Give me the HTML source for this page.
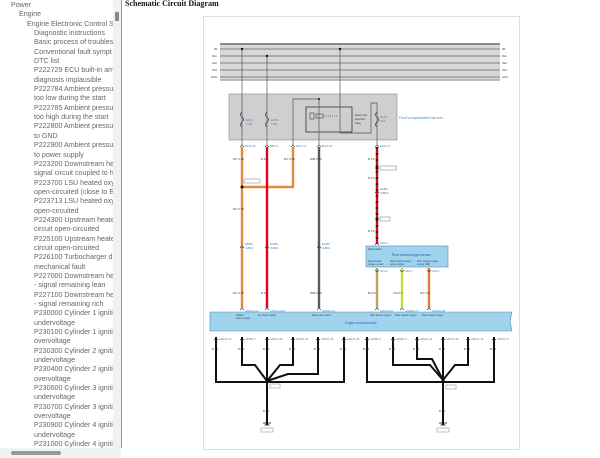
<!DOCTYPE html>
<html style="overflow:hidden"><head><meta charset="utf-8"><style>
html,body{margin:0;width:600px;height:458px;overflow:hidden}
body{background:#fff;font-family:"Liberation Sans",sans-serif;position:relative}
#side{position:absolute;left:0;top:1px;width:113px;height:447px;overflow:hidden;font-size:7.1px;color:#666;line-height:9.35px}
#side div{white-space:nowrap}
#sb{position:absolute;left:113px;top:0;width:8px;height:448px;background:#f1f1f1;border-right:1px solid #999}
#thumb{position:absolute;left:115px;top:12px;width:4px;height:9px;background:#888;border-radius:1px}
#hs{position:absolute;left:0;top:448px;width:121px;height:10px;background:#f1f1f1}
#hthumb{position:absolute;left:11px;top:451px;width:50px;height:4px;background:#999;border-radius:2px}
#title{position:absolute;left:125px;top:-1px;font:bold 8px "Liberation Serif",serif;color:#111}
svg{position:absolute;left:0;top:0}
</style></head><body>
<div id="side">
<div style="padding-left:11px">Power</div>
<div style="padding-left:19px">Engine</div>
<div style="padding-left:27px">Engine Electronic Control S</div>
<div style="padding-left:34px">Diagnostic instructions</div>
<div style="padding-left:34px">Basic process of troubles</div>
<div style="padding-left:34px">Conventional fault sympt</div>
<div style="padding-left:34px">DTC list</div>
<div style="padding-left:34px">P222729 ECU built-in am</div>
<div style="padding-left:34px">diagnosis implausible</div>
<div style="padding-left:34px">P222784 Ambient pressu</div>
<div style="padding-left:34px">too low during the start</div>
<div style="padding-left:34px">P222785 Ambient pressu</div>
<div style="padding-left:34px">too high during the start</div>
<div style="padding-left:34px">P222800 Ambient pressu</div>
<div style="padding-left:34px">to GND</div>
<div style="padding-left:34px">P222900 Ambient pressu</div>
<div style="padding-left:34px">to power supply</div>
<div style="padding-left:34px">P223200 Downstream he</div>
<div style="padding-left:34px">signal circuit coupled to h</div>
<div style="padding-left:34px">P223700 LSU heated oxy</div>
<div style="padding-left:34px">open-circuited (close to E</div>
<div style="padding-left:34px">P223713 LSU heated oxy</div>
<div style="padding-left:34px">open-circuited</div>
<div style="padding-left:34px">P224300 Upstream heate</div>
<div style="padding-left:34px">circuit open-circuited</div>
<div style="padding-left:34px">P225100 Upstream heate</div>
<div style="padding-left:34px">circuit open-circuited</div>
<div style="padding-left:34px">P226100 Turbocharger d</div>
<div style="padding-left:34px">mechanical fault</div>
<div style="padding-left:34px">P227000 Downstream he</div>
<div style="padding-left:34px">- signal remaining lean</div>
<div style="padding-left:34px">P227100 Downstream he</div>
<div style="padding-left:34px">- signal remaining rich</div>
<div style="padding-left:34px">P230000 Cylinder 1 igniti</div>
<div style="padding-left:34px">undervoltage</div>
<div style="padding-left:34px">P230100 Cylinder 1 igniti</div>
<div style="padding-left:34px">overvoltage</div>
<div style="padding-left:34px">P230300 Cylinder 2 igniti</div>
<div style="padding-left:34px">undervoltage</div>
<div style="padding-left:34px">P230400 Cylinder 2 igniti</div>
<div style="padding-left:34px">overvoltage</div>
<div style="padding-left:34px">P230600 Cylinder 3 igniti</div>
<div style="padding-left:34px">undervoltage</div>
<div style="padding-left:34px">P230700 Cylinder 3 igniti</div>
<div style="padding-left:34px">overvoltage</div>
<div style="padding-left:34px">P230900 Cylinder 4 igniti</div>
<div style="padding-left:34px">undervoltage</div>
<div style="padding-left:34px">P231000 Cylinder 4 igniti</div>
</div>
<div id="sb"></div><div id="thumb"></div><div id="hs"></div><div id="hthumb"></div>
<div id="title">Schematic Circuit Diagram</div>
<svg width="600" height="458" viewBox="0 0 600 458" font-family="Liberation Sans,sans-serif">
<rect x="203.5" y="16.5" width="316" height="433" fill="#fff" stroke="#ddd"/>
<rect x="220" y="44" width="280" height="36" fill="#d8d8d8"/>
<g stroke="#666" stroke-width="0.8">
<line x1="220" y1="44" x2="500" y2="44" stroke="#888" stroke-width="2"/>
<line x1="220" y1="49" x2="500" y2="49"/><line x1="220" y1="56" x2="500" y2="56"/>
<line x1="220" y1="63" x2="500" y2="63"/><line x1="220" y1="70" x2="500" y2="70"/>
<line x1="220" y1="77" x2="500" y2="77"/>
<line x1="220" y1="80" x2="500" y2="80" stroke="#aaa" stroke-width="1.5"/>
</g>
<g font-size="3" fill="#333">
<text x="214" y="50">30</text><text x="212" y="57">IG1</text><text x="212" y="64">IG2</text><text x="212" y="71">IG4</text><text x="211" y="78">ACC</text>
<text x="502" y="50">30</text><text x="502" y="57">IG1</text><text x="502" y="64">IG2</text><text x="502" y="71">IG4</text><text x="502" y="78">ACC</text>
</g>
<rect x="229" y="94" width="168" height="46" fill="#cfcfcf" stroke="#888" stroke-width="0.6"/>
<rect x="306" y="107" width="46" height="25" fill="none" stroke="#333" stroke-width="0.8"/>
<text x="399" y="119" font-size="3.5" fill="#4a7fb8">Front compartment fuse box</text>
<g stroke="#555" stroke-width="0.7" fill="none">
<line x1="242" y1="49" x2="242" y2="145"/><line x1="267" y1="56" x2="267" y2="145"/>
<polyline points="293,145 293,99 319,99 319,145"/>
<polyline points="340,49 340,133 371,133 371,103 377,103 377,145"/>
<rect x="310" y="113" width="4" height="6"/><rect x="316" y="114" width="7" height="4"/>
<line x1="324" y1="116" x2="338" y2="116" stroke-dasharray="1,1"/>
</g>
<g fill="#111"><circle cx="242" cy="49" r="1.2"/><circle cx="267" cy="56" r="1.2"/><circle cx="340" cy="49" r="1.2"/><circle cx="319" cy="99" r="1"/></g>
<g font-size="2.8" fill="#333"><text x="355" y="116">Electronic</text><text x="355" y="120">injection</text><text x="355" y="124">relay</text></g>
<g font-size="3" fill="#4a7fb8"><text x="246" y="121">EF34</text><text x="246" y="125">7.5A</text><text x="271" y="121">EF29</text><text x="271" y="125">7.5A</text><text x="380" y="118">EF07</text><text x="380" y="122">20A</text></g>
<g stroke="#333" fill="none" stroke-width="0.7">
<path d="M242,112 q-3,3 0,5 q3,3 0,5 q-3,3 0,5"/><path d="M267,112 q-3,3 0,5 q3,3 0,5 q-3,3 0,5"/><path d="M377,112 q-3,3 0,5 q3,3 0,5 q-3,3 0,5"/>
</g>
<g fill="none" stroke-linecap="butt">
<polyline points="293,147 293,187 242,187" stroke="#e08a3c" stroke-width="2.4"/>
<line x1="242" y1="147" x2="242" y2="308" stroke="#e08a3c" stroke-width="2.4"/>
<line x1="267" y1="147" x2="267" y2="308" stroke="#e4001a" stroke-width="2.4"/>
<line x1="319" y1="147" x2="319" y2="308" stroke="#5a5a5a" stroke-width="2.4"/>
<line x1="377" y1="147" x2="377" y2="244" stroke="#e4001a" stroke-width="2.4"/>
<line x1="377" y1="147" x2="377" y2="244" stroke="#222" stroke-width="2.4" stroke-dasharray="2,4"/>
<line x1="377" y1="268" x2="377" y2="308" stroke="#b5a66a" stroke-width="2.4"/>
<line x1="402" y1="268" x2="402" y2="308" stroke="#c9dc44" stroke-width="2.4"/>
<line x1="429" y1="268" x2="429" y2="308" stroke="#e07a3c" stroke-width="2.4"/>
</g>
<g fill="#111"><circle cx="242" cy="187" r="1.5"/><circle cx="377" cy="168" r="1.5"/><circle cx="377" cy="219" r="1.5"/></g>
<g fill="#fff" stroke="#555" stroke-width="0.4"><rect x="244" y="179" width="16" height="4"/><rect x="380" y="166" width="16" height="4"/><rect x="380" y="217" width="10" height="4"/></g>
<g fill="none" stroke="#333" stroke-width="0.6">
<path d="M240,147 l2,-2 l2,2 M265,147 l2,-2 l2,2 M291,147 l2,-2 l2,2 M317,147 l2,-2 l2,2 M375,147 l2,-2 l2,2"/>
<path d="M240,248 l2,-2 l2,2 M265,248 l2,-2 l2,2 M317,248 l2,-2 l2,2 M375,193 l2,-2 l2,2 M375,245 l2,-2 l2,2"/>
<path d="M375,270 l2,2 l2,-2 M400,270 l2,2 l2,-2 M427,270 l2,2 l2,-2"/>
<path d="M240,310 l2,-2 l2,2 M265,310 l2,-2 l2,2 M317,310 l2,-2 l2,2 M375,310 l2,-2 l2,2 M400,310 l2,-2 l2,2 M427,310 l2,-2 l2,2"/>
</g>
<g font-size="2.8" fill="#4a7fb8">
<text x="245" y="147">EF/A-23</text><text x="270" y="147">BBC-4</text><text x="296" y="147">EF/A-10</text><text x="322" y="147">EF/A-32</text><text x="380" y="147">EF/A-17</text>
<text x="245" y="245">EB/B2</text><text x="245" y="249">JUB01</text><text x="270" y="245">EA/B3</text><text x="270" y="249">JUB01</text><text x="322" y="245">EA/B2</text><text x="322" y="249">JUB01</text>
<text x="380" y="190">EA/B2</text><text x="380" y="194">JUB02</text><text x="380" y="244">S24-4</text>
<text x="245" y="312">A05/A1-63</text><text x="270" y="312">A05/A1-104</text><text x="322" y="312">A05/A1-21</text><text x="380" y="312">A05/A1-97</text><text x="405" y="312">A05/B1-77</text><text x="432" y="312">A05/B1-99</text>
<text x="380" y="272">S24-3</text><text x="405" y="272">S24-2</text><text x="432" y="272">S24-1</text>
</g>
<g font-size="2.8" fill="#333">
<text x="233" y="160">R/Y 0.35</text><text x="261" y="160">R 0.5</text><text x="284" y="160">R/Y 0.35</text><text x="310" y="160">W/B 0.75</text><text x="368" y="160">R 0.5</text>
<text x="233" y="210">R/Y 0.35</text><text x="368" y="179">R 0.5</text><text x="368" y="232">R 0.5</text>
<text x="233" y="294">R/Y 0.35</text><text x="261" y="294">R 0.5</text><text x="310" y="294">W/B 0.75</text><text x="368" y="294">Br 0.5</text><text x="393" y="294">Y/G 0.5</text><text x="420" y="294">R/Y 0.5</text>
</g>
<rect x="366" y="246" width="82" height="21" fill="#9fd3ee" stroke="#4b8fb0" stroke-width="0.6"/>
<text x="368" y="250" font-size="2.6" fill="#345">Rear heater</text>
<text x="392" y="256" font-size="3.2" fill="#2a5f9a">Rear heated oxygen sensor</text>
<g font-size="2.4" fill="#345"><text x="368" y="262">Rear heated</text><text x="368" y="265">oxygen sensor</text><text x="390" y="262">Rear heated oxygen</text><text x="390" y="265">sensor signal</text><text x="417" y="262">Rear heated oxygen</text><text x="417" y="265">sensor GND</text></g>
<path d="M210,312 H512 L510,321 L512,331 H210 Z" fill="#9fd3ee" stroke="#4b8fb0" stroke-width="0.6"/>
<text x="345" y="324" font-size="3.2" fill="#2a5f9a">Engine control module</text>
<g font-size="2.4" fill="#345"><text x="236" y="316">Heated</text><text x="236" y="319">power supply</text><text x="258" y="316">Ke power supply</text><text x="312" y="316">Main relay control</text><text x="370" y="316">Rear heated oxygen</text><text x="395" y="316">Rear heated oxygen</text><text x="422" y="316">Rear heated oxygen</text></g>
<g fill="none" stroke="#111" stroke-width="2">
<polyline points="216,337 216,382 344,382 344,337"/>
<line x1="267" y1="337" x2="267" y2="425"/>
<polyline points="242,337 242,365 255,365 267,381"/>
<polyline points="293,337 293,365 280,365 267,381"/>
<polyline points="318,337 318,374 288,374 267,381"/>
<polyline points="367,337 367,382 494,382 494,337"/>
<line x1="443" y1="337" x2="443" y2="425"/>
<polyline points="393,337 393,365 430,365 443,380"/>
<polyline points="417,337 417,359 432,359 443,380"/>
<polyline points="468,337 468,365 455,365 443,380"/>
</g>
<g fill="none" stroke="#333" stroke-width="0.6">
<path d="M214,339 l2,2 l2,-2 M240,339 l2,2 l2,-2 M265,339 l2,2 l2,-2 M291,339 l2,2 l2,-2 M316,339 l2,2 l2,-2 M342,339 l2,2 l2,-2 M365,339 l2,2 l2,-2 M391,339 l2,2 l2,-2 M415,339 l2,2 l2,-2 M441,339 l2,2 l2,-2 M466,339 l2,2 l2,-2 M492,339 l2,2 l2,-2"/>
</g>
<g font-size="2.6" fill="#4a7fb8"><text x="219" y="340">A05/A1-23</text><text x="245" y="340">A05/B1-7</text><text x="270" y="340">A05/A1-28</text><text x="296" y="340">A05/A1-44</text><text x="321" y="340">A05/A1-45</text><text x="347" y="340">A05/A1-46</text><text x="370" y="340">A05/B1-2</text><text x="396" y="340">A05/B1-3</text><text x="420" y="340">A05/A1-99</text><text x="446" y="340">A05/A1-33</text><text x="471" y="340">A05/A1-79</text><text x="497" y="340">A05/A1-77</text></g>
<g font-size="2.6" fill="#333"><text x="212" y="350">B 1.0</text><text x="238" y="350">B 0.5</text><text x="263" y="350">B 0.5</text><text x="289" y="350">B 1.0</text><text x="314" y="350">B 1.0</text><text x="340" y="350">B 1.0</text><text x="363" y="350">B 0.5</text><text x="389" y="350">B 1.0</text><text x="413" y="350">B 1.0</text><text x="439" y="350">B 1.0</text><text x="464" y="350">B 0.5</text><text x="490" y="350">B 0.5</text>
<text x="263" y="412">B 2.0</text><text x="439" y="412">B 2.0</text></g>
<g fill="#111"><circle cx="267" cy="381" r="1.6"/><circle cx="443" cy="380" r="1.6"/></g>
<g fill="#fff" stroke="#666" stroke-width="0.4"><rect x="270" y="384" width="10" height="4"/><rect x="446" y="385" width="10" height="4"/><rect x="261" y="428" width="12" height="4"/><rect x="437" y="428" width="12" height="4"/></g>
<g stroke="#111" stroke-width="0.8"><line x1="263" y1="423" x2="271" y2="423"/><line x1="264.5" y1="425" x2="269.5" y2="425"/><line x1="439" y1="423" x2="447" y2="423"/><line x1="440.5" y1="425" x2="445.5" y2="425"/></g>
</svg>
</body></html>
